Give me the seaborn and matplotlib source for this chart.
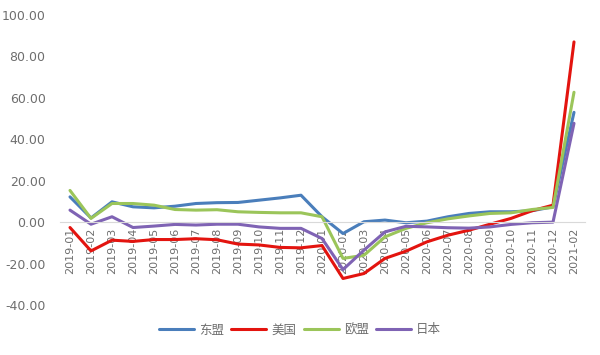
import matplotlib
matplotlib.use("Agg")
import matplotlib.pyplot as plt
import seaborn as sns
import pandas as pd
from matplotlib.lines import Line2D

months = ["2019-01", "2019-02", "2019-03", "2019-04", "2019-05", "2019-06",
          "2019-07", "2019-08", "2019-09", "2019-10", "2019-11", "2019-12",
          "2020-01", "2020-02", "2020-03", "2020-04", "2020-05", "2020-06",
          "2020-07", "2020-08", "2020-09", "2020-10", "2020-11", "2020-12",
          "2021-02"]

asean = [12.2, 2.0, 9.8, 7.4, 6.9, 7.7, 9.0, 9.4, 9.5, 10.6, 11.7, 13.0,
         2.6, -5.5, 0.2, 1.0, -0.3, 0.5, 2.6, 4.2, 5.0, 5.0, 5.5, 7.4, 53.0]
usa = [-2.6, -13.9, -8.7, -9.3, -8.4, -8.4, -8.0, -8.5, -10.6, -11.0, -12.2, -12.4,
       -11.3, -27.2, -24.8, -17.5, -14.0, -9.5, -6.3, -3.9, -1.0, 1.8, 5.5, 8.2, 87.0]
eu = [15.3, 1.8, 9.0, 9.0, 8.2, 6.1, 5.8, 6.0, 5.0, 4.7, 4.5, 4.5,
      2.6, -17.5, -16.0, -7.1, -3.0, -0.3, 1.6, 3.0, 4.2, 4.5, 6.1, 7.1, 62.7]
japan = [5.8, -1.0, 2.6, -2.6, -1.9, -1.1, -1.4, -1.0, -1.0, -2.3, -3.0, -3.0,
         -7.9, -22.9, -13.5, -4.7, -2.0, -2.3, -2.7, -2.9, -2.3, -1.1, -0.3, 0.0, 47.7]

series_names = ["东盟", "美国", "欧盟", "日本"]
colors = ["#4a7ebb", "#e3140f", "#9bc55a", "#7f63b4"]

rows = []
for name, vals in zip(series_names, [asean, usa, eu, japan]):
    for i, (m, v) in enumerate(zip(months, vals)):
        rows.append({"idx": i, "month": m, "value": v, "series": name})
df = pd.DataFrame(rows)

sns.set_theme(style="white")
plt.rcParams["font.family"] = ["Noto Sans CJK SC", "DejaVu Sans"]

fig = plt.figure(figsize=(6.0, 3.55), dpi=100)
ax = fig.add_axes([59.5 / 600, 1 - 305 / 355, 525 / 600, 290 / 355])

sns.lineplot(data=df, x="idx", y="value", hue="series", hue_order=series_names,
             palette=colors, linewidth=2.2, ax=ax, legend=False)

for s in ["top", "right", "left"]:
    ax.spines[s].set_visible(False)
ax.spines["bottom"].set_position(("data", 0))
ax.spines["bottom"].set_color("#d9d9d9")
ax.spines["bottom"].set_linewidth(0.8)
ax.grid(False)

ax.set_xlim(-0.5, 24.5)
ax.set_ylim(-40, 100)
ax.set_yticks([-40, -20, 0, 20, 40, 60, 80, 100])
ax.set_yticklabels([f"{v:.2f}" for v in [-40, -20, 0, 20, 40, 60, 80, 100]],
                   fontsize=9, color="#6e6e6e", family=["DejaVu Sans"])
ax.set_xticks(range(len(months)))
ax.set_xticklabels(months, rotation=90, fontsize=8, color="#6e6e6e", family=["DejaVu Sans"])
ax.tick_params(axis="x", length=0, pad=4)
ax.tick_params(axis="y", length=0, pad=10)
ax.set_xlabel("")
ax.set_ylabel("")

handles = [Line2D([0], [0], color=c, linewidth=2.2) for c in colors]
fig.legend(handles, series_names, loc="center", bbox_to_anchor=(0.5, 1 - 330 / 355),
           ncol=4, frameon=False, fontsize=9, labelcolor="#6e6e6e",
           handlelength=2.8, handletextpad=0.4, columnspacing=0.6)

fig.savefig("out.png", dpi=100)
